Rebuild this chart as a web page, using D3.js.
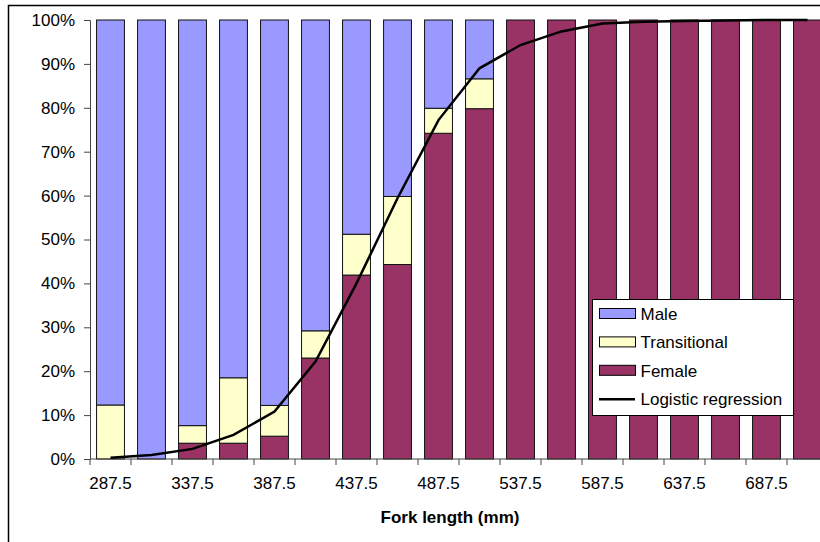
<!DOCTYPE html>
<html>
<head>
<meta charset="utf-8">
<script src="https://cdn.jsdelivr.net/npm/d3@7"></script>
<style>
  body { margin: 0; background: #fff; }
  svg { display: block; font-family: "Liberation Sans", Arial, sans-serif; }
</style>
</head>
<body>
<svg id="chart" width="820" height="542"></svg>
<script>
// fork length classes (mm)
const lengths = [287.5, 312.5, 337.5, 362.5, 387.5, 412.5, 437.5, 462.5, 487.5,
  512.5, 537.5, 562.5, 587.5, 612.5, 637.5, 662.5, 687.5, 712.5];

// percent of fish in each class
const female = [0, 0, 3.6, 3.6, 5.2, 23.0, 41.9, 44.3, 74.2, 79.8,
  100, 100, 100, 100, 100, 100, 100, 100];
const transitional = [12.3, 0, 4.0, 14.9, 7.0, 6.2, 9.3, 15.5, 5.7, 6.8,
  0, 0, 0, 0, 0, 0, 0, 0];
const male = [87.7, 100, 92.4, 81.5, 87.8, 70.8, 48.8, 40.2, 20.1, 13.4,
  0, 0, 0, 0, 0, 0, 0, 0];

// logistic regression curve at each class midpoint (%)
const logistic = [0.3, 0.9, 2.3, 5.5, 10.8, 22.2, 40.0, 59.4, 77.2, 89.0,
  94.3, 97.4, 99.2, 99.6, 99.8, 99.9, 100, 100];

const yTicks = [0, 0.1, 0.2, 0.3, 0.4, 0.5, 0.6, 0.7, 0.8, 0.9, 1];
const xLabels = [287.5, 337.5, 387.5, 437.5, 487.5, 537.5, 587.5, 637.5, 687.5];

const seriesKeys = ["Female", "Transitional", "Male"];
const colors = { Male: "#9999ff", Transitional: "#ffffcc", Female: "#993366" };

const rows = lengths.map((l, i) => ({
  length: l,
  Female: female[i],
  Transitional: transitional[i],
  Male: male[i],
}));

const fontSize = "17px";
const svg = d3.select("#chart");

// outer chart border (runs off the right/bottom like the original)
svg.append("rect")
  .attr("x", 8.5).attr("y", 5.5)
  .attr("width", 900).attr("height", 600)
  .attr("fill", "none").attr("stroke", "#000").attr("stroke-width", 1.5);

const x = d3.scaleBand()
  .domain(lengths)
  .range([90, 828])
  .paddingInner(0.32)
  .paddingOuter(0.16);
const y = d3.scaleLinear().domain([0, 1]).range([459, 20]);

const stacked = d3.stack().keys(seriesKeys)(rows);

// bars
svg.append("g")
  .selectAll("g")
  .data(stacked)
  .join("g")
  .attr("fill", (s) => colors[s.key])
  .selectAll("rect")
  .data((s) => s.filter((d) => d[1] - d[0] > 0))
  .join("rect")
  .attr("x", (d) => x(d.data.length))
  .attr("y", (d) => y(d[1] / 100))
  .attr("width", x.bandwidth())
  .attr("height", (d) => y(d[0] / 100) - y(d[1] / 100))
  .attr("stroke", "#111")
  .attr("stroke-width", 1);

// y axis
const yAxis = svg.append("g")
  .attr("transform", "translate(90,0)")
  .call(d3.axisLeft(y).tickValues(yTicks).tickSize(6).tickPadding(9)
    .tickFormat(d3.format(".0%")));
yAxis.select(".domain").attr("stroke", "#444");
yAxis.selectAll(".tick line").attr("stroke", "#444");
yAxis.selectAll("text").style("font-size", fontSize).attr("fill", "#000");

// x axis: labels on every other class, tick marks between classes
const xAxis = svg.append("g")
  .attr("transform", "translate(0,459)")
  .call(d3.axisBottom(x).tickValues(xLabels).tickSize(0).tickPadding(18)
    .tickFormat((d) => d));
xAxis.select(".domain").attr("stroke", "#444").attr("d", "M90,0H828");
xAxis.selectAll("text").style("font-size", fontSize).attr("fill", "#000");

const half = (x.step() * x.paddingInner()) / 2;
svg.append("g")
  .selectAll("line")
  .data(lengths)
  .join("line")
  .attr("x1", (d) => x(d) - half)
  .attr("x2", (d) => x(d) - half)
  .attr("y1", 459)
  .attr("y2", 465)
  .attr("stroke", "#444");

// logistic curve
const line = d3.line()
  .x((d, i) => x(lengths[i]) + x.bandwidth() / 2)
  .y((d) => y(d / 100));
svg.append("path")
  .datum(logistic)
  .attr("d", line)
  .attr("fill", "none")
  .attr("stroke", "#000")
  .attr("stroke-width", 2.5);

// axis title
svg.append("text")
  .attr("x", 450).attr("y", 523)
  .attr("text-anchor", "middle")
  .style("font-size", fontSize)
  .style("font-weight", "bold")
  .text("Fork length (mm)");

// legend
const legendItems = ["Male", "Transitional", "Female", "Logistic regression"];
const legend = svg.append("g").attr("transform", "translate(592,299)");
legend.append("rect")
  .attr("x", 0.5).attr("y", 0.5)
  .attr("width", 201).attr("height", 116)
  .attr("fill", "#fff").attr("stroke", "#000");

const item = legend.selectAll("g.item")
  .data(legendItems)
  .join("g")
  .attr("class", "item")
  .attr("transform", (d, i) => `translate(0,${15 + i * 28.4})`);

item.filter((d) => d !== "Logistic regression")
  .append("rect")
  .attr("x", 7.5).attr("y", -5.5)
  .attr("width", 36).attr("height", 10)
  .attr("fill", (d) => colors[d])
  .attr("stroke", "#000");
item.filter((d) => d === "Logistic regression")
  .append("line")
  .attr("x1", 7).attr("x2", 43)
  .attr("y1", 0).attr("y2", 0)
  .attr("stroke", "#000").attr("stroke-width", 2.5);
item.append("text")
  .attr("x", 48.5).attr("y", 0).attr("dy", "0.35em")
  .style("font-size", fontSize)
  .text((d) => d);
</script>
</body>
</html>
